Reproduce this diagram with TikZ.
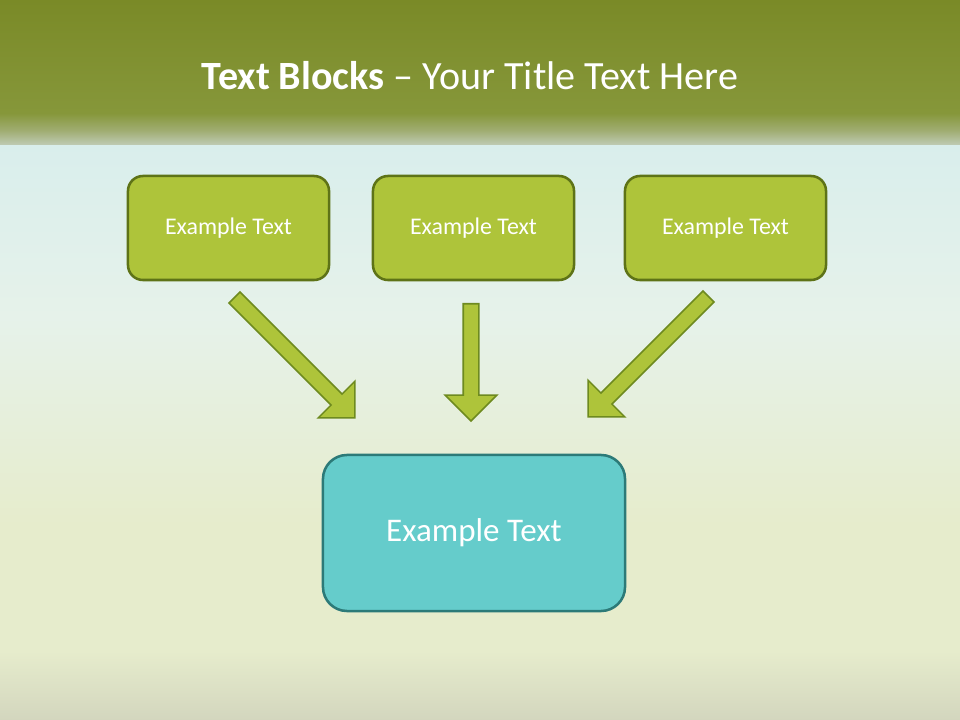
\documentclass[tikz,border=0pt]{standalone}
\usepackage{fontspec}
\setmainfont{Carlito}
\usetikzlibrary{positioning,shapes.arrows}
\definecolor{barTop}{HTML}{7A8A27}
\definecolor{barMid}{HTML}{86973A}
\definecolor{barLow}{HTML}{A0AD72}
\definecolor{barEnd}{HTML}{BFCBB5}
\definecolor{bgTop}{HTML}{D9EEEC}
\definecolor{bgMid}{HTML}{E6F2EA}
\definecolor{bgLow}{HTML}{E6ECCC}
\definecolor{bgEnd}{HTML}{D3D6BE}
\definecolor{leafFill}{HTML}{AEC43A}
\definecolor{leafLine}{HTML}{5E7317}
\definecolor{arrowLine}{HTML}{6E8A1F}
\definecolor{poolFill}{HTML}{65CCCB}
\definecolor{poolLine}{HTML}{2C7A78}
% the path is mapped onto 25bp..75bp of each shading
\pgfdeclareverticalshading{barshade}{100bp}{color(0bp)=(barEnd); color(25bp)=(barEnd); color(30bp)=(barLow); color(36bp)=(barMid); color(75bp)=(barTop); color(100bp)=(barTop)}
\pgfdeclareverticalshading{bgshade}{100bp}{color(0bp)=(bgEnd); color(25bp)=(bgEnd); color(31bp)=(bgLow); color(42bp)=(bgLow); color(60bp)=(bgMid); color(75bp)=(bgTop); color(100bp)=(bgTop)}
\tikzstyle{leaf}=[rectangle,rounded corners=0.375cm,draw=leafLine,line width=1.8pt,
fill=leafFill,text=white,minimum width=5.025cm,minimum height=2.6cm,font=\fontsize{17}{20}\selectfont]
\tikzstyle{pool}=[rectangle,rounded corners=0.6cm,draw=poolLine,line width=1.8pt,
fill=poolFill,text=white,minimum width=7.55cm,minimum height=3.9cm,font=\fontsize{23.5}{28}\selectfont]
\tikzstyle{flow}=[single arrow,draw=arrowLine,line width=1.1pt,fill=leafFill,
inner xsep=0pt,inner ysep=0.175cm,single arrow head extend=0.45cm,
single arrow head indent=0pt,anchor=tail]
\begin{document}
\begin{tikzpicture}[x=0.025cm,y=-0.025cm]
            \useasboundingbox (0,0) rectangle (960,720);

            % BACKGROUND

            \shade[shading=bgshade] (0,145) rectangle (960,720);
            \shade[shading=barshade] (0,0) rectangle (960,145);
            \node[text=white,font=\fontsize{28.5}{33}\selectfont] (title) at (470,76)
                {\textbf{Text Blocks} -- Your Title Text Here};

            % TOP BOXES

            \node[leaf] (b1) at (228.5,228) {Example Text};
            \node[leaf] (b2) at (473.5,228) {Example Text};
            \node[leaf] (b3) at (725.5,228) {Example Text};

            % BOTTOM BOX

            \node[pool] (b4) at (474,533) {Example Text};

            % ARROWS

            \node[flow,rotate=-45,minimum height=4.25cm] (a1) at (234,297) {};
            \node[flow,rotate=-90,minimum height=2.93cm] (a2) at (471,303) {};
            \node[flow,rotate=-135,minimum height=4.25cm] (a3) at (709,296) {};

        \end{tikzpicture}
\end{document}
